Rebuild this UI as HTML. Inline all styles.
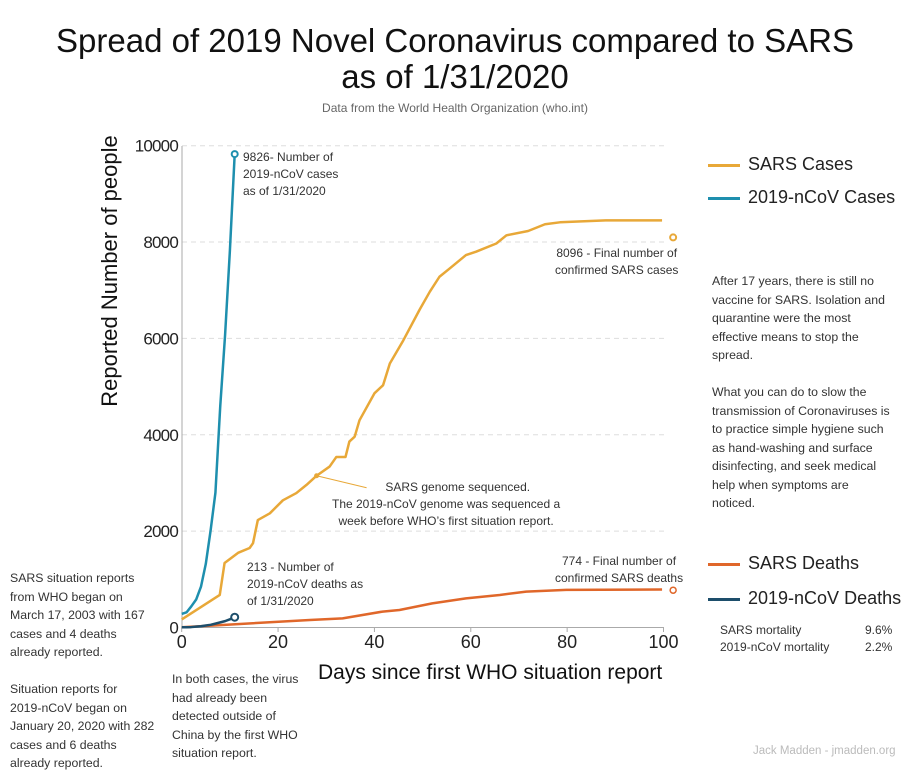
<!DOCTYPE html>
<html><head><meta charset="utf-8"><style>
body{margin:0;width:924px;height:768px;background:#fff;font-family:"Liberation Sans",sans-serif;color:#222;overflow:hidden;position:relative}
.t{position:absolute;white-space:nowrap}
.p{position:absolute;font-size:12.3px;line-height:18.5px;color:#333;white-space:nowrap}
</style></head><body>
<div class="t" style="left:0;width:910px;text-align:center;top:23px;font-size:33px;line-height:36px;color:#111">Spread of 2019 Novel Coronavirus compared to SARS<br>as of 1/31/2020</div>
<div class="t" style="left:0;width:910px;text-align:center;top:101px;font-size:12px;color:#666">Data from the World Health Organization (who.int)</div>
<div class="t" style="left:110px;top:271px;transform:translate(-50%,-50%) rotate(-90deg);font-size:22px;color:#111">Reported Number of people</div>
<div class="t" style="left:318px;top:661px;font-size:21px;color:#111">Days since first WHO situation report</div>
<svg id="chart" width="924" height="768" style="position:absolute;left:0;top:0" font-family="Liberation Sans, sans-serif"></svg>
<div class="t" style="left:243px;top:149px;font-size:12px;line-height:17px;color:#333">9826- Number of<br>2019-nCoV cases<br>as of 1/31/2020</div>
<div class="t" style="left:247px;top:559px;font-size:12px;line-height:17px;color:#333">213 - Number of<br>2019-nCoV deaths as<br>of 1/31/2020</div>
<div class="t" style="left:555px;top:245px;font-size:12px;line-height:17px;color:#333;text-align:center">8096 - Final number of<br>confirmed SARS cases</div>
<div class="t" style="left:555px;top:553px;font-size:12px;line-height:17px;color:#333;text-align:center">774 - Final number of<br>confirmed SARS deaths</div>
<div class="t" style="left:332px;top:479px;font-size:12px;line-height:17px;color:#333;text-align:center">&nbsp;&nbsp;&nbsp;&nbsp;&nbsp;&nbsp;&nbsp;SARS genome sequenced.<br>The 2019-nCoV genome was sequenced a<br>week before WHO’s first situation report.</div>
<div class="t" style="left:708px;top:154px;font-size:18px"><span style="display:inline-block;width:32px;height:2.5px;background:#e8a838;vertical-align:middle;margin-right:8px"></span>SARS Cases</div>
<div class="t" style="left:708px;top:187px;font-size:18px"><span style="display:inline-block;width:32px;height:2.5px;background:#1e8fae;vertical-align:middle;margin-right:8px"></span>2019-nCoV Cases</div>
<div class="t" style="left:708px;top:553px;font-size:18px"><span style="display:inline-block;width:32px;height:3px;background:#e0672a;vertical-align:middle;margin-right:8px"></span>SARS Deaths</div>
<div class="t" style="left:708px;top:588px;font-size:18px"><span style="display:inline-block;width:32px;height:3px;background:#1d4e6b;vertical-align:middle;margin-right:8px"></span>2019-nCoV Deaths</div>
<div class="p" style="left:712px;top:272px">After 17 years, there is still no<br>vaccine for SARS. Isolation and<br>quarantine were the most<br>effective means to stop the<br>spread.<br><br>What you can do to slow the<br>transmission of Coronaviruses is<br>to practice simple hygiene such<br>as hand-washing and surface<br>disinfecting, and seek medical<br>help when symptoms are<br>noticed.</div>
<div class="t" style="left:720px;top:622px;font-size:12px;line-height:17px;color:#333">SARS mortality<br>2019-nCoV mortality</div>
<div class="t" style="left:865px;top:622px;font-size:12px;line-height:17px;color:#333">9.6%<br>2.2%</div>
<div class="p" style="left:10px;top:569px">SARS situation reports<br>from WHO began on<br>March 17, 2003 with 167<br>cases and 4 deaths<br>already reported.<br><br>Situation reports for<br>2019-nCoV began on<br>January 20, 2020 with 282<br>cases and 6 deaths<br>already reported.</div>
<div class="p" style="left:172px;top:670px">In both cases, the virus<br>had already been<br>detected outside of<br>China by the first WHO<br>situation report.</div>
<div class="t" style="left:753px;top:745px;font-size:11.5px;color:#bbb">Jack Madden - jmadden.org</div>
<script>
const yTicks=[0,2000,4000,6000,8000,10000];
const xTicks=[0,20,40,60,80,100];
const ncovDays=[0,1,2,3,4,5,6,7,8,9,10,11];
const ncovCases=[282,314,440,581,846,1320,2014,2798,4593,6065,7818,9826];
const ncovDeaths=[6,6,9,17,25,41,56,80,106,132,170,213];
const sarsDays=[0,7.9,8.9,11.7,14.1,14.8,15.8,18.3,21,23.8,25.9,28,30.7,32.1,34,34.8,35.9,36.9,40,41.8,43.2,46,49.4,51.5,53.5,55.6,59,61.1,65.3,67.4,71.9,75.4,78.5,88,99.7];
const sarsCases=[167,675,1340,1550,1650,1750,2230,2370,2640,2790,2960,3150,3340,3540,3540,3860,3960,4300,4860,5030,5480,5960,6600,6970,7280,7450,7730,7800,7970,8140,8230,8370,8410,8450,8450];
const sarsDeathDays=[0,8,26.6,33.4,41.7,45.2,52,59,66,71.5,79.8,99.7];
const sarsDeaths=[4,50,155,190,330,363,500,605,675,745,780,790];
const finalDay=102, sarsFinalCases=8096, sarsFinalDeaths=774, genomeDay=28, genomeVal=3150;
const X=d=>181.7+d*4.818, Y=v=>627.5-v*0.04818;
const svg=document.getElementById('chart'),NS='http://www.w3.org/2000/svg';
function mk(t,a,nm){const e=document.createElementNS(NS,t);for(const k in a)e.setAttribute(k,a[k]);


svg.appendChild(e);return e;}
yTicks.forEach(v=>{if(v>0)mk('line',{x1:182,x2:664,y1:Y(v),y2:Y(v),stroke:'#ddd','stroke-dasharray':'5,4'},'gridline');
const t=mk('text',{x:178,y:Y(v)+6,'text-anchor':'end','font-size':17,'letter-spacing':-0.8,fill:'#222'},'y-tick-label');t.textContent=v;});
mk('line',{x1:182,x2:182,y1:146,y2:627.5,stroke:'#aaa'},'y-axis-line');
mk('line',{x1:182,x2:664,y1:627.5,y2:627.5,stroke:'#aaa'},'x-axis-line');
xTicks.forEach(d=>{mk('line',{x1:X(d),x2:X(d),y1:627.5,y2:632,stroke:'#aaa'},'x-tick');
const t=mk('text',{x:X(d),y:648,'text-anchor':'middle','font-size':18,fill:'#222'},'x-tick-label');t.textContent=d;});
function line(xs,ys,c,w,nm){mk('polyline',{points:xs.map((d,i)=>X(d)+','+Y(ys[i])).join(' '),fill:'none',stroke:c,'stroke-width':w,'stroke-linejoin':'round'},nm);}
line(sarsDeathDays,sarsDeaths,'#e0672a',2.5,'sars-deaths-line');
line(sarsDays,sarsCases,'#e8a838',2.5,'sars-cases-line');
line(ncovDays,ncovDeaths,'#1d4e6b',2.5,'ncov-deaths-line');
line(ncovDays,ncovCases,'#1e8fae',2.5,'ncov-cases-line');
const n=ncovDays.length-1;
mk('circle',{cx:X(ncovDays[n]),cy:Y(ncovCases[n]),r:3,fill:'#fff',stroke:'#1e8fae','stroke-width':2},'ncov-cases-end-marker');
mk('circle',{cx:X(ncovDays[n]),cy:Y(ncovDeaths[n]),r:3.5,fill:'#fff',stroke:'#1d4e6b','stroke-width':2},'ncov-deaths-end-marker');
mk('circle',{cx:X(finalDay),cy:Y(sarsFinalCases),r:3,fill:'#fff',stroke:'#e8a838','stroke-width':2},'sars-final-cases-marker');
mk('circle',{cx:X(finalDay),cy:Y(sarsFinalDeaths),r:3,fill:'#fff',stroke:'#e0672a','stroke-width':1.5},'sars-final-deaths-marker');
mk('line',{x1:X(genomeDay),y1:Y(genomeVal),x2:X(genomeDay)+50,y2:Y(genomeVal)+12,stroke:'#e8a838','stroke-width':1},'genome-leader-line');
mk('circle',{cx:X(genomeDay),cy:Y(genomeVal),r:2.5,fill:'#e8a838'},'genome-marker');
</script>
</body></html>
